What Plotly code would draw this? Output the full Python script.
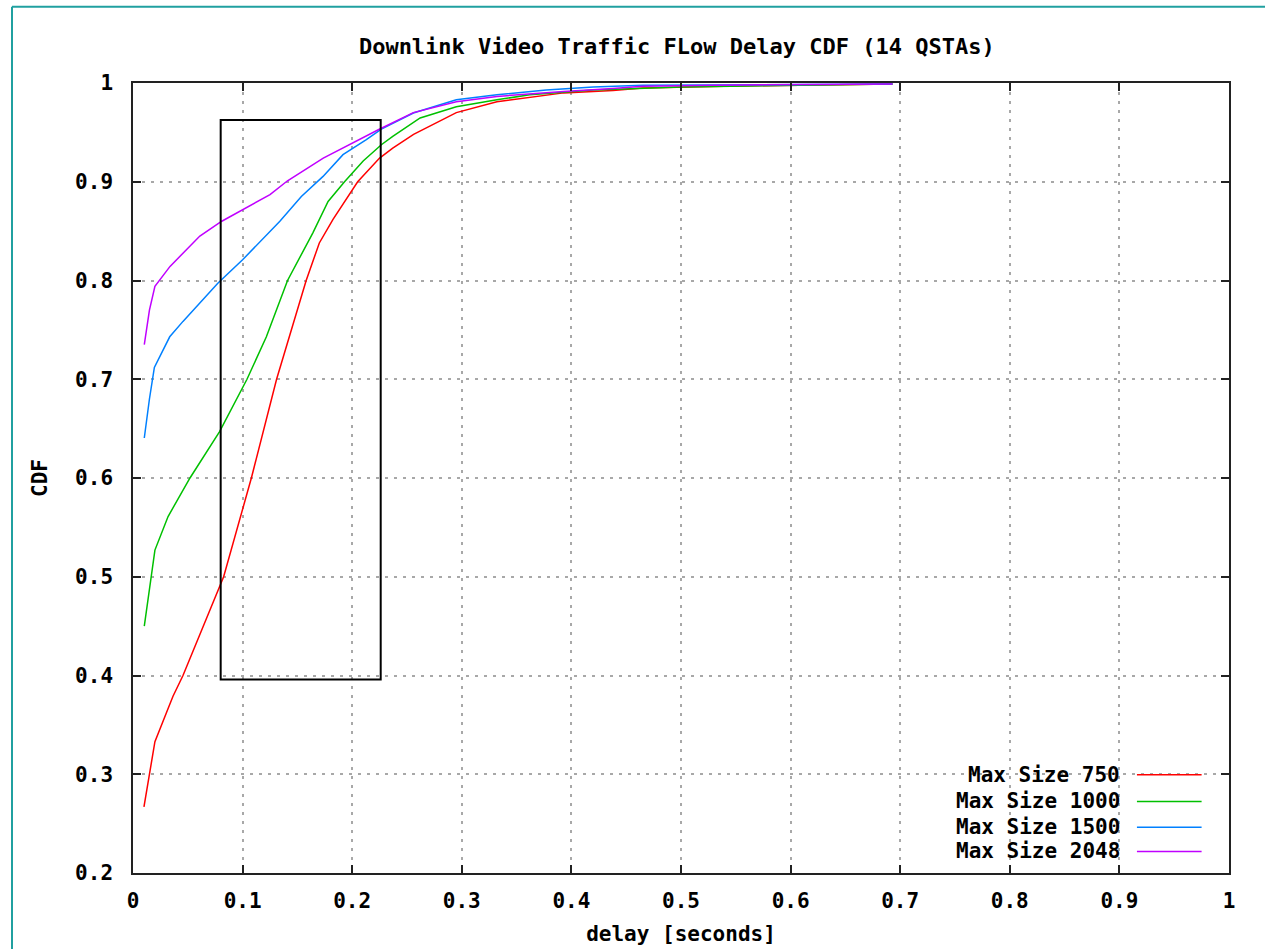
import plotly.graph_objects as go

# ---- data ----
red_x = [0.010, 0.015, 0.020, 0.0304, 0.0365, 0.0456, 0.064, 0.0827, 0.108, 0.131, 0.158, 0.170,
         0.1825, 0.205, 0.225, 0.237, 0.256, 0.295, 0.332, 0.393, 0.438, 0.465, 0.55, 0.693]
red_y = [0.267, 0.300, 0.333, 0.362, 0.379, 0.400, 0.450, 0.500, 0.600, 0.700, 0.800, 0.838,
         0.862, 0.900, 0.924, 0.934, 0.948, 0.970, 0.981, 0.990, 0.9925, 0.995, 0.997, 0.999]

green_x = [0.0103, 0.015, 0.020, 0.032, 0.052, 0.079, 0.104, 0.1217, 0.141, 0.164, 0.178, 0.193, 0.210,
           0.2266, 0.237, 0.262, 0.295, 0.332, 0.362, 0.42, 0.50, 0.693]
green_y = [0.450, 0.490, 0.527, 0.561, 0.600, 0.647, 0.700, 0.743, 0.800, 0.848, 0.880, 0.900, 0.921,
           0.9375, 0.946, 0.9646, 0.976, 0.983, 0.988, 0.993, 0.996, 0.999]

blue_x = [0.0103, 0.015, 0.0195, 0.0335, 0.0456, 0.0776, 0.100, 0.134, 0.1536, 0.1734, 0.1916, 0.2129,
          0.2266, 0.2558, 0.295, 0.332, 0.377, 0.42, 0.465, 0.523, 0.693]
blue_y = [0.6405, 0.680, 0.712, 0.743, 0.7586, 0.7975, 0.821, 0.860, 0.885, 0.9054, 0.9274, 0.9426,
          0.9534, 0.9696, 0.983, 0.988, 0.993, 0.996, 0.9976, 0.998, 0.999]

purple_x = [0.0103, 0.015, 0.020, 0.0338, 0.061, 0.081, 0.125, 0.141, 0.1736, 0.201, 0.2238, 0.2558,
            0.295, 0.332, 0.393, 0.438, 0.465, 0.53, 0.693]
purple_y = [0.735, 0.770, 0.794, 0.8143, 0.845, 0.860, 0.887, 0.901, 0.924, 0.940, 0.9527, 0.970,
            0.981, 0.9864, 0.9915, 0.9945, 0.9966, 0.9978, 0.999]

series_names = ["Max Size 750", "Max Size 1000", "Max Size 1500", "Max Size 2048"]
series_colors = ["#ff0000", "#00c000", "#0080ff", "#c000ff"]

x_ticks = [0, 0.1, 0.2, 0.3, 0.4, 0.5, 0.6, 0.7, 0.8, 0.9, 1]
x_tick_labels = ["0", "0.1", "0.2", "0.3", "0.4", "0.5", "0.6", "0.7", "0.8", "0.9", "1"]
y_ticks = [0.2, 0.3, 0.4, 0.5, 0.6, 0.7, 0.8, 0.9, 1]
y_tick_labels = ["0.2", "0.3", "0.4", "0.5", "0.6", "0.7", "0.8", "0.9", "1"]

# highlight box (data coordinates)
box_x = [0.080, 0.226]
box_y = [0.396, 0.9625]

FONT = "DejaVu Sans Mono"
FS = 21

fig = go.Figure()
for xs, ys, name, col in zip([red_x, green_x, blue_x, purple_x],
                             [red_y, green_y, blue_y, purple_y],
                             series_names, series_colors):
    fig.add_trace(go.Scatter(x=xs, y=ys, mode="lines", name=name,
                             line=dict(color=col, width=1.5), showlegend=False))

# highlight rectangle
fig.add_shape(type="rect", xref="x", yref="y", x0=box_x[0], x1=box_x[1], y0=box_y[0], y1=box_y[1],
              line=dict(color="black", width=2), fillcolor="rgba(0,0,0,0)")

# custom legend (text right-aligned, sample on the right, as in gnuplot)
leg_y = [0.1245, 0.0906, 0.058, 0.0273]
for name, col, yy in zip(series_names, series_colors, leg_y):
    fig.add_annotation(xref="paper", yref="paper", x=0.902, y=yy, text=name, showarrow=False,
                       xanchor="right", yanchor="middle",
                       font=dict(family=FONT, size=FS, color="black", weight="bold"))
    fig.add_shape(type="line", xref="paper", yref="paper", x0=0.916, x1=0.975, y0=yy, y1=yy,
                  line=dict(color=col, width=1.5))

# teal frame of the image
fig.add_shape(type="line", xref="paper", yref="paper", x0=-0.1104, x1=-0.1104, y0=-0.2, y1=1.0966,
              line=dict(color="#20a0a0", width=2))
fig.add_shape(type="line", xref="paper", yref="paper", x0=-0.1104, x1=1.2, y0=1.0966, y1=1.0966,
              line=dict(color="#20a0a0", width=2))

axis_common = dict(
    showline=True, linecolor="#222222", linewidth=1.5, mirror="ticks",
    ticks="inside", ticklen=8, tickwidth=2, tickcolor="#222222",
    showgrid=True, gridcolor="#a8a8a8", gridwidth=1.5, griddash="3px,6px",
    zeroline=False,
    tickfont=dict(family=FONT, size=FS, color="black", weight="bold"),
)

fig.update_xaxes(range=[0, 1], tickvals=x_ticks, ticktext=x_tick_labels,
                 title=dict(text="delay [seconds]", standoff=14,
                            font=dict(family=FONT, size=FS, color="black", weight="bold")),
                 ticklabelstandoff=8, **axis_common)
fig.update_yaxes(range=[0.2, 1], tickvals=y_ticks, ticktext=y_tick_labels,
                 title=dict(text="CDF", standoff=22,
                            font=dict(family=FONT, size=FS, color="black", weight="bold")),
                 ticklabelstandoff=14, **axis_common)

fig.update_layout(
    width=1265, height=949,
    margin=dict(l=133, r=36, t=83, b=76, autoexpand=False),
    paper_bgcolor="white", plot_bgcolor="white",
    title=dict(text="Downlink Video Traffic FLow Delay CDF (14 QSTAs)", x=0.535, xanchor="center",
               y=1 - 46 / 949, yanchor="middle", yref="container",
               font=dict(family=FONT, size=22, color="black", weight="bold")),
    showlegend=False,
)

fig.write_html("out.html")
